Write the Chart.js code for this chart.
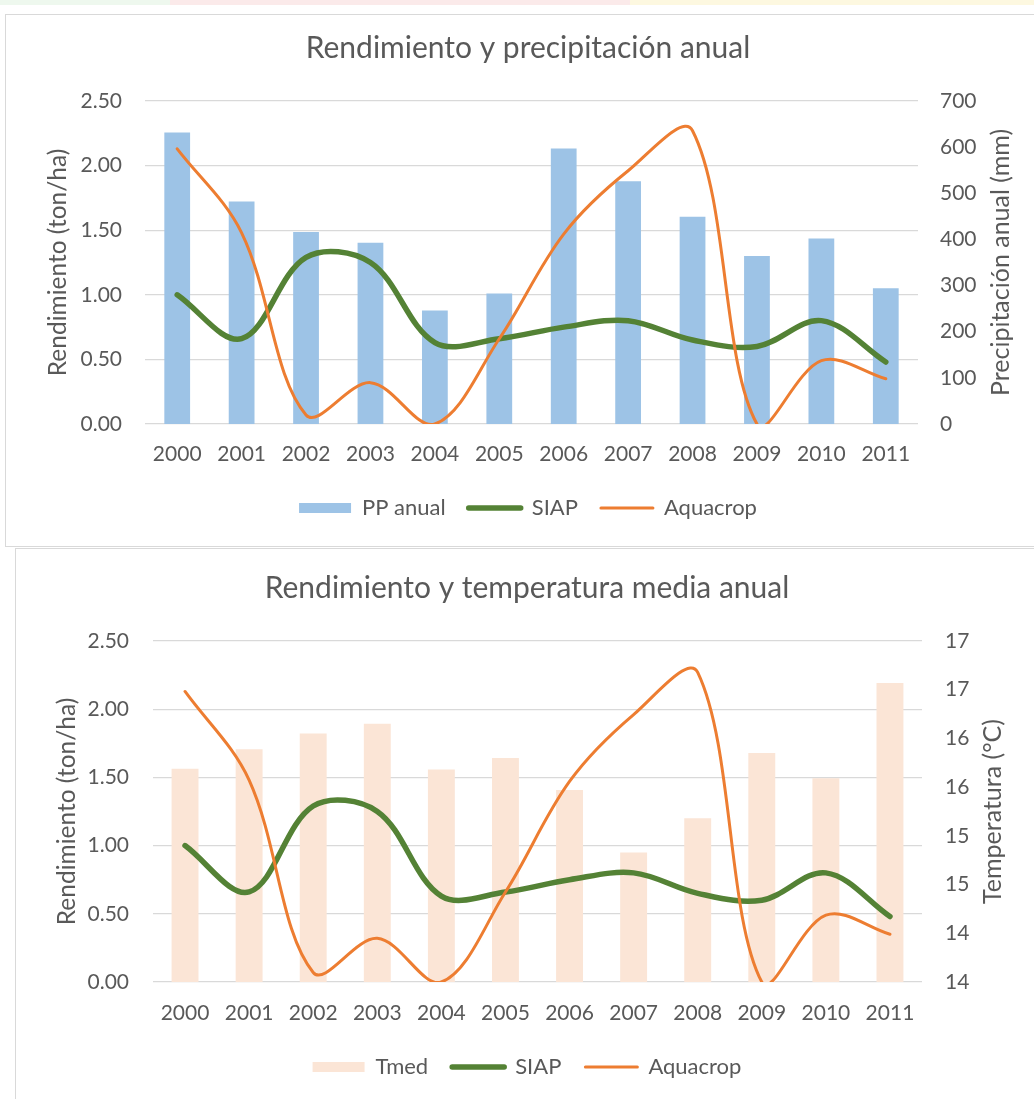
<!DOCTYPE html>
<html>
<head>
<meta charset="utf-8">
<script src="https://cdn.jsdelivr.net/npm/chart.js@4.4.1/dist/chart.umd.min.js"></script>
<style>
  html, body { margin: 0; padding: 0; background: #fff; width: 1034px; height: 1099px; overflow: hidden; }
  .strip { position: absolute; left: 0; top: 0; width: 1034px; height: 5px;
           background: linear-gradient(90deg, #eef8ee 0, #eef8ee 170px, #fbeaea 170px, #fbeaea 630px, #fdf8e0 630px, #fdf8e0 1100px, #eef8ee 1100px); }
  .frame { position: absolute; border: 1px solid #d9d9d9; background: #fff; }
  canvas { position: absolute; }
</style>
</head>
<body>
<div class="strip"></div>
<div class="frame" style="left:5px; top:14px; width:1100px; height:531px;"></div>
<div class="frame" style="left:15px; top:548px; width:1100px; height:600px;"></div>
<canvas id="chartPP" width="1044" height="530" style="left:6px; top:15px;"></canvas>
<canvas id="chartTemp" width="1022" height="550" style="left:16px; top:549px;"></canvas>

<script>
// Years on the category axis
const years = ['2000', '2001', '2002', '2003', '2004', '2005', '2006', '2007', '2008', '2009', '2010', '2011'];

// Annual precipitation (mm)
const ppAnual = [632, 482, 416, 393, 246, 283, 597, 526, 449, 364, 402, 294];

// Mean annual temperature (°C)
const tmed = [15.69, 15.89, 16.05, 16.15, 15.68, 15.80, 15.47, 14.83, 15.18, 15.85, 15.59, 16.57];

// Yield (ton/ha): reported by SIAP and simulated with Aquacrop
const siap = [1.00, 0.66, 1.29, 1.25, 0.63, 0.66, 0.75, 0.80, 0.65, 0.60, 0.80, 0.48];
const aquacrop = [2.13, 1.48, 0.07, 0.32, 0.00, 0.66, 1.47, 1.96, 2.27, 0.00, 0.49, 0.35];

// Axis tick labels
const yieldTicks = ['0.00', '0.50', '1.00', '1.50', '2.00', '2.50'];
const ppTicks = ['0', '100', '200', '300', '400', '500', '600', '700'];
const tempTicks = ['14', '14', '15', '15', '16', '16', '17', '17'];

const TEXT = '#595959';
const GRID = '#d9d9d9';
const FONT = 'Lato, "Open Sans", sans-serif';
Chart.defaults.font.family = FONT;
Chart.defaults.color = TEXT;

// Title for the secondary axis, read bottom-to-top like the primary one
const rightAxisTitle = {
  id: 'rightAxisTitle',
  afterDraw(chart, args, opts) {
    const { ctx, chartArea } = chart;
    ctx.save();
    ctx.translate(opts.x, (chartArea.top + chartArea.bottom) / 2);
    ctx.rotate(-Math.PI / 2);
    ctx.font = opts.size + 'px ' + FONT;
    ctx.fillStyle = TEXT;
    ctx.textAlign = 'center';
    ctx.textBaseline = 'middle';
    ctx.fillText(opts.text, 0, 0);
    ctx.restore();
  }
};

function legendItems(chart) {
  return chart.data.datasets.map((ds, i) => ({
    text: ds.label,
    fillStyle: ds.type === 'bar' ? ds.backgroundColor : ds.borderColor,
    strokeStyle: ds.type === 'bar' ? ds.backgroundColor : ds.borderColor,
    lineWidth: ds.type === 'bar' ? 0 : ds.borderWidth,
    lineCap: 'round',
    pointStyle: ds.type === 'bar' ? 'rect' : 'line',
    fontColor: TEXT,
    hidden: false,
    datasetIndex: i
  }));
}

function buildChart(id, p) {
  return new Chart(document.getElementById(id), {
    data: {
      labels: years,
      datasets: [
        {
          type: 'bar', label: p.barLabel, data: p.barData, yAxisID: 'y1',
          backgroundColor: p.barColor, borderWidth: 0,
          categoryPercentage: 1, barPercentage: p.barPct, order: 2
        },
        {
          type: 'line', label: 'SIAP', data: siap, yAxisID: 'y',
          borderColor: '#548235', borderWidth: 5.5, borderCapStyle: 'round', borderJoinStyle: 'round',
          tension: 0.35, capBezierPoints: false, pointRadius: 0, pointHoverRadius: 0, order: 1
        },
        {
          type: 'line', label: 'Aquacrop', data: aquacrop, yAxisID: 'y',
          borderColor: '#ed7d31', borderWidth: 3, borderCapStyle: 'round', borderJoinStyle: 'round',
          tension: 0.35, capBezierPoints: false, pointRadius: 0, pointHoverRadius: 0, order: 0
        }
      ]
    },
    options: {
      responsive: false,
      animation: false,
      events: [],
      layout: { padding: { left: 0, right: 0, top: 0, bottom: p.padBottom } },
      plugins: {
        title: {
          display: true, text: p.title, color: TEXT,
          font: { size: 30, weight: 'normal' },
          padding: { top: p.titleTop, bottom: p.titleBottom }
        },
        legend: {
          position: 'bottom',
          labels: {
            generateLabels: legendItems,
            usePointStyle: true, pointStyleWidth: 52, boxHeight: 10,
            padding: p.legendPad, color: TEXT, font: { size: 22 }
          }
        },
        tooltip: { enabled: false },
        rightAxisTitle: { text: p.rightTitle, x: p.rightTitleX, size: 25 }
      },
      scales: {
        x: {
          grid: { display: false }, border: { display: false },
          ticks: { padding: p.xPad, font: { size: 21 }, color: TEXT },
          afterFit: s => { s.height = 50; }
        },
        y: {
          position: 'left', min: 0, max: 2.5,
          grid: { color: GRID, lineWidth: 1.3, drawTicks: false }, border: { display: false },
          ticks: { stepSize: 0.5, padding: p.leftPad, font: { size: 21 }, color: TEXT,
                   callback: (v, i) => yieldTicks[i] },
          title: { display: true, text: 'Rendimiento (ton/ha)', color: TEXT, font: { size: 24.5 },
                   padding: { top: p.leftTitlePad, bottom: 0 } },
          afterFit: s => { s.width = p.leftW; }
        },
        y1: {
          position: 'right', min: p.rMin, max: p.rMax,
          grid: { display: false, drawTicks: false }, border: { display: false },
          ticks: { stepSize: p.rStep, padding: p.rightPad, font: { size: 21 }, color: TEXT,
                   callback: (v, i) => p.rTicks[i] },
          afterFit: s => { s.width = p.rightW; }
        }
      }
    },
    plugins: [rightAxisTitle]
  });
}

buildChart('chartPP', {
  title: 'Rendimiento y precipitación anual',
  barLabel: 'PP anual', barData: ppAnual, barColor: '#9dc3e6', barPct: 0.4,
  rMin: 0, rMax: 700, rStep: 100, rTicks: ppTicks,
  rightTitle: 'Precipitación anual (mm)', rightTitleX: 995,
  titleTop: 15, titleBottom: 35, padBottom: 16, legendPad: 23, xPad: 10,
  leftW: 139, rightW: 132, leftPad: 23, rightPad: 22, leftTitlePad: 37
});

buildChart('chartTemp', {
  title: 'Rendimiento y temperatura media anual',
  barLabel: 'Tmed', barData: tmed, barColor: '#fbe5d6', barPct: 0.42,
  rMin: 13.5, rMax: 17, rStep: 0.5, rTicks: tempTicks,
  rightTitle: 'Temperatura (°C)', rightTitleX: 977,
  titleTop: 21, titleBottom: 35, padBottom: 11, legendPad: 24, xPad: 11,
  leftW: 137, rightW: 116, leftPad: 24, rightPad: 23, leftTitlePad: 36
});
</script>
</body>
</html>
